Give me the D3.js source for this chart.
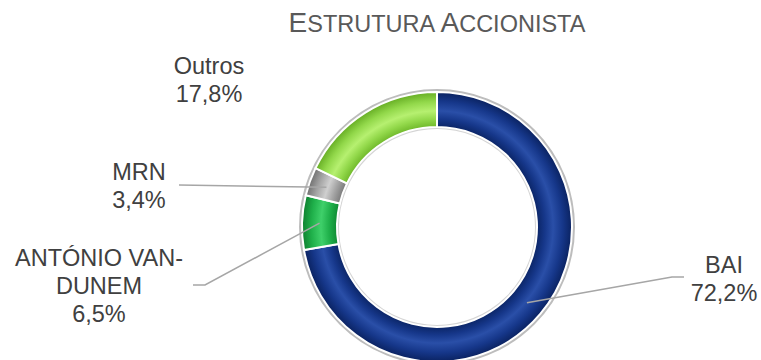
<!DOCTYPE html>
<html>
<head>
<meta charset="utf-8">
<script src="https://d3js.org/d3.v7.min.js"></script>
<style>
  body { margin: 0; background: #fff; }
  text { font-family: "Liberation Sans", Arial, sans-serif; fill: #404040; }
</style>
</head>
<body>
<div id="chart-area"></div>
<script>
var width = 761,
    height = 360;

// data
var names = ["BAI", "ANTÓNIO VAN-DUNEM", "MRN", "Outros"];
var shares = [72.2, 6.5, 3.4, 17.8];
var labelLines = [["BAI", "72,2%"], ["ANTÓNIO VAN-", "DUNEM", "6,5%"], ["MRN", "3,4%"], ["Outros", "17,8%"]];
var labelPos = [[724, 273], [99, 266], [139, 180], [209, 74]];
var colors = [
  ["#0b2566", "#16378a", "#2a4fa8", "#16378a", "#0a2260"],
  ["#0f8a33", "#1fb04a", "#3fd06a", "#1fb04a", "#0e7f2f"],
  ["#7a7a7a", "#a3a3a3", "#cfcfcf", "#a3a3a3", "#707070"],
  ["#6fb82a", "#92d84a", "#b6f070", "#92d84a", "#66ad24"]
];

var cx = 437, cy = 227, rIn = 100, rOut = 135;

var svg = d3.select("#chart-area").append("svg")
    .attr("width", width)
    .attr("height", height);

var defs = svg.append("defs");
colors.forEach(function(c, i) {
  var g = defs.append("radialGradient")
    .attr("id", "grad" + i)
    .attr("gradientUnits", "userSpaceOnUse")
    .attr("cx", 0).attr("cy", 0).attr("r", rOut);
  var offs = [rIn / rOut, 0.80, 0.86, 0.93, 1];
  offs.forEach(function(o, j) {
    g.append("stop").attr("offset", o).attr("stop-color", c[j]);
  });
});

// title
var title = svg.append("text")
    .attr("x", 437)
    .attr("y", 32)
    .attr("text-anchor", "middle")
    .style("fill", "#595959");
title.append("tspan").style("font-size", "28px").text("E");
title.append("tspan").style("font-size", "23.5px").text("STRUTURA ");
title.append("tspan").style("font-size", "28px").text("A");
title.append("tspan").style("font-size", "23.5px").text("CCIONISTA");

var pie = d3.pie().sort(null).value(function(d) { return d; });
var arcs = pie(shares);

var arc = d3.arc().innerRadius(rIn).outerRadius(rOut);
var midArc = d3.arc().innerRadius((rIn + rOut) / 2).outerRadius((rIn + rOut) / 2);

var g = svg.append("g").attr("transform", "translate(" + cx + "," + cy + ")");

// rim behind the ring
g.append("circle").attr("r", rOut + 1.5)
  .attr("fill", "none").attr("stroke", "#bdbdbd").attr("stroke-width", 3);
g.append("circle").attr("r", rIn - 1)
  .attr("fill", "none").attr("stroke", "#d5d5d5").attr("stroke-width", 2);

g.selectAll(".slice")
  .data(arcs)
  .enter()
  .append("path")
  .attr("class", "slice")
  .attr("d", arc)
  .attr("fill", function(d, i) { return "url(#grad" + i + ")"; })
  .attr("stroke", "#fff")
  .attr("stroke-width", 2);

// leader lines
var leaders = [
  { i: 0, pts: [[684, 277], [672, 277]] },
  { i: 1, pts: [[193, 285], [205, 285]] },
  { i: 2, pts: [[179, 185]] }
];
leaders.forEach(function(l) {
  var c = midArc.centroid(arcs[l.i]);
  var pts = l.pts.concat([[c[0] + cx, c[1] + cy]]);
  svg.append("path")
    .attr("d", d3.line()(pts))
    .attr("fill", "none")
    .attr("stroke", "#a6a6a6")
    .attr("stroke-width", 1.5);
});

// labels
labelLines.forEach(function(lines, i) {
  var t = svg.append("text")
    .attr("text-anchor", "middle")
    .style("font-size", "23.5px");
  lines.forEach(function(s, j) {
    t.append("tspan")
      .attr("x", labelPos[i][0])
      .attr("y", labelPos[i][1] + j * 28)
      .text(s);
  });
});
</script>
</body>
</html>
